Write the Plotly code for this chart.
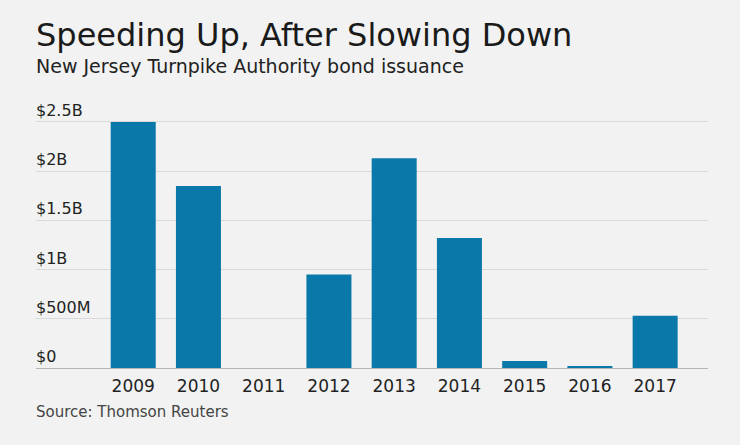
import plotly.graph_objects as go

years = ["2009", "2010", "2011", "2012", "2013", "2014", "2015", "2016", "2017"]
issuance_b = [2.50, 1.85, 0.0, 0.95, 2.13, 1.32, 0.07, 0.02, 0.53]
tick_vals = [0, 0.5, 1.0, 1.5, 2.0, 2.5]
tick_text = ["$0", "$500M", "$1B", "$1.5B", "$2B", "$2.5B"]

title = "Speeding Up, After Slowing Down"
subtitle = "New Jersey Turnpike Authority bond issuance"
source = "Source: Thomson Reuters"

BG = "#f1f2f1"
FONT = "DejaVu Sans"

fig = go.Figure(go.Bar(x=years, y=issuance_b, marker_color="#0a78a8",
                       marker_line_width=0, width=0.69, hoverinfo="x+y"))

fig.update_layout(
    width=740, height=445, paper_bgcolor=BG, plot_bgcolor=BG,
    margin=dict(l=36, r=32, t=116, b=77),
    showlegend=False, font=dict(family=FONT, color="#222"),
)
fig.update_xaxes(type="category", range=[-1.49, 8.81], showgrid=False,
                 showline=False, ticks="", tickfont=dict(size=17, color="#222"),
                 ticklabelstandoff=6)
fig.update_yaxes(range=[0, 2.56], tickvals=tick_vals, showticklabels=False,
                 showgrid=True, gridcolor="#d9d9d9", gridwidth=1,
                 zeroline=True, zerolinecolor="#b5b5b5", zerolinewidth=1,
                 showline=False, ticks="")

for v, t in zip(tick_vals, tick_text):
    fig.add_annotation(text=t, xref="paper", yref="y", x=0, y=v,
                       xanchor="left", yanchor="bottom", showarrow=False,
                       xshift=-2, yshift=0,
                       font=dict(size=16, color="#222", family=FONT))

H = 445 - 116 - 77
def py(pix):
    return (445 - 77 - pix) / H

fig.add_annotation(text=title, xref="paper", yref="paper", x=0, y=py(35),
                   xanchor="left", yanchor="middle", showarrow=False, xshift=-2,
                   font=dict(size=32, color="#1a1a1a", family=FONT))
fig.add_annotation(text=subtitle, xref="paper", yref="paper", x=0, y=py(66),
                   xanchor="left", yanchor="middle", showarrow=False, xshift=-2,
                   font=dict(size=19, color="#222", family=FONT))
fig.add_annotation(text=source, xref="paper", yref="paper", x=0, y=py(412),
                   xanchor="left", yanchor="middle", showarrow=False, xshift=-2,
                   font=dict(size=15, color="#444", family=FONT))

fig.write_html("out.html", config={"displayModeBar": False},
               post_script="document.body.style.margin='0';document.body.style.background='#f1f2f1';")
